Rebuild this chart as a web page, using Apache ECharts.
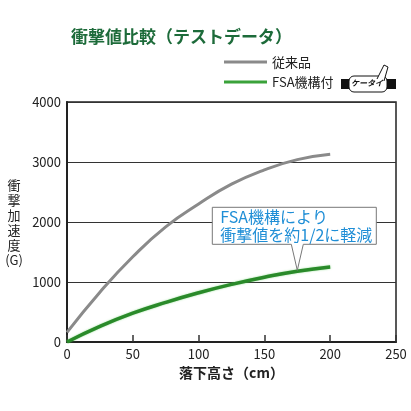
<!DOCTYPE html>
<html>
<head>
<meta charset="utf-8">
<script src="https://cdn.jsdelivr.net/npm/echarts@6/dist/echarts.min.js"></script>
<style>
  html, body { margin: 0; padding: 0; background: #fff; }
  #chart { width: 411px; height: 411px; }
</style>
</head>
<body>
<div id="chart"></div>
<script>
// drop height (cm)
const heights = [0, 25, 50, 75, 100, 125, 150, 175, 200]
// conventional product
const oldValues = [160, 830, 1420, 1920, 2300, 2630, 2870, 3040, 3130]
// with FSA mechanism
const fsaValues = [0, 260, 480, 660, 820, 960, 1080, 1180, 1250]
const seriesNames = ['従来品', 'FSA機構付']
const xTicks = [0, 50, 100, 150, 200, 250]
const yTicks = [0, 1000, 2000, 3000, 4000]

const font = '"Noto Sans CJK JP", "Noto Sans", sans-serif'
const chart = echarts.init(document.getElementById('chart'))

chart.setOption({
  animation: false,
  textStyle: { fontFamily: font },
  title: {
    text: '衝撃値比較（テストデータ）',
    left: 66,
    top: 23,
    textStyle: { color: '#1d6b3a', fontSize: 17, fontWeight: 'bold', fontFamily: font }
  },
  legend: {
    orient: 'vertical',
    left: 219,
    top: 49,
    icon: 'rect',
    itemWidth: 43,
    itemHeight: 3,
    itemGap: 4,
    textStyle: { color: '#222', fontSize: 13, lineHeight: 16 },
    data: seriesNames
  },
  grid: {
    left: 67,
    right: 15,
    top: 102,
    bottom: 69,
    show: true,
    borderColor: '#222',
    borderWidth: 1.5
  },
  xAxis: {
    type: 'value',
    min: xTicks[0],
    max: xTicks[xTicks.length - 1],
    interval: 50,
    name: '落下高さ（cm）',
    nameLocation: 'middle',
    nameGap: 23,
    nameTextStyle: { color: '#222', fontSize: 14, fontWeight: 'bold' },
    axisLine: { lineStyle: { color: '#222', width: 2 } },
    axisTick: { inside: true, length: 7, lineStyle: { color: '#333', width: 1.5 } },
    axisLabel: { color: '#222', fontSize: 13, margin: 6 },
    splitLine: { show: false }
  },
  yAxis: {
    type: 'value',
    min: yTicks[0],
    max: yTicks[yTicks.length - 1],
    interval: 1000,
    axisLine: { show: true, lineStyle: { color: '#222', width: 2 } },
    axisTick: { show: false },
    axisLabel: { color: '#222', fontSize: 13, margin: 6, formatter: v => String(v) },
    splitLine: { lineStyle: { color: '#333', width: 1 } }
  },
  series: [
    {
      name: seriesNames[0],
      type: 'line',
      smooth: true,
      symbol: 'none',
      color: '#8a8a8a',
      lineStyle: { color: '#8a8a8a', width: 3 },
      data: heights.map((h, i) => [h, oldValues[i]])
    },
    {
      name: seriesNames[1],
      type: 'line',
      smooth: true,
      symbol: 'none',
      color: '#3aa23a',
      lineStyle: { color: '#2a8a2a', width: 3.5, shadowColor: 'rgba(80,200,80,0.6)', shadowBlur: 2 },
      data: heights.map((h, i) => [h, fsaValues[i]])
    }
  ]
})

// callout box pointing at the FSA curve, plus axis title and the small badge
const tip = chart.convertToPixel({ gridIndex: 0 }, [175, 1195])
const bx0 = tip[0] - 85, bx1 = tip[0] + 79, by0 = tip[1] - 63, by1 = tip[1] - 26
chart.setOption({
  graphic: [
    {
      type: 'polygon',
      shape: {
        points: [[bx0, by0], [bx1, by0], [bx1, by1], [tip[0] + 6, by1], tip, [tip[0] - 6, by1], [bx0, by1]]
      },
      style: { fill: '#fff', stroke: '#777', lineWidth: 1 },
      z: 10
    },
    {
      type: 'text',
      x: bx0 + 8,
      y: by0 + 1,
      style: {
        text: 'FSA機構により\n衝撃値を約1/2に軽減',
        fill: '#1f8ed6',
        font: '16px ' + font,
        lineHeight: 18
      },
      z: 11
    },
    {
      type: 'text',
      x: 14,
      y: 178,
      style: {
        text: '衝\n撃\n加\n速\n度\n(G)',
        fill: '#222',
        font: '13px ' + font,
        lineHeight: 15,
        align: 'center'
      }
    },
    {
      type: 'group',
      x: 341,
      y: 75,
      children: [
        { type: 'rect', shape: { x: 0, y: 4, width: 55, height: 10 }, style: { fill: '#111' } },
        { type: 'rect', shape: { x: 8, y: 1, width: 38, height: 16, r: 5 }, style: { fill: '#fff', stroke: '#111', lineWidth: 1 } },
        { type: 'polyline', shape: { points: [[36, 4], [43, -10], [47, -8], [43, 6]] }, style: { stroke: '#111', fill: '#fff', lineWidth: 1 } },
        { type: 'text', x: 10, y: 4, style: { text: 'ケータイ', fill: '#111', font: 'italic bold 8px ' + font } }
      ]
    }
  ]
})
</script>
</body>
</html>
